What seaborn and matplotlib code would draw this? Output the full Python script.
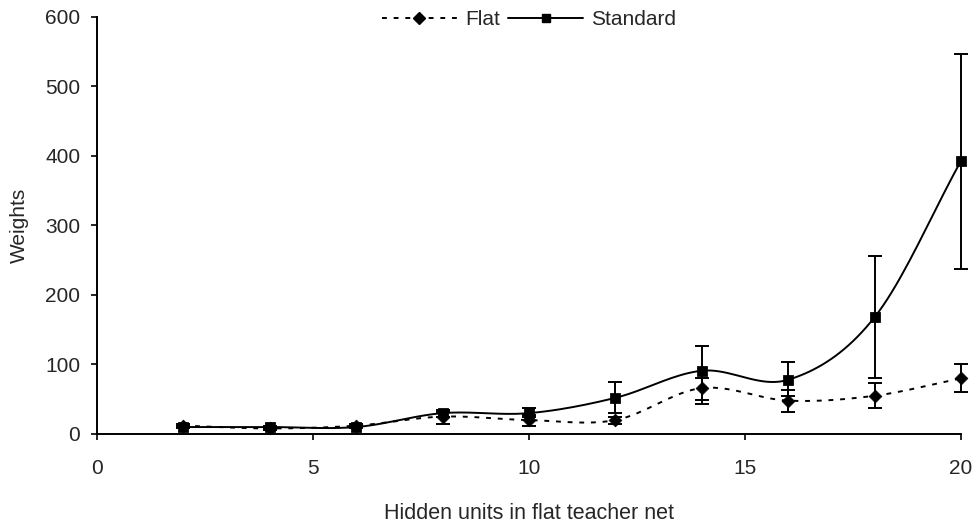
import numpy as np
import pandas as pd
import matplotlib
matplotlib.use("Agg")
import matplotlib.pyplot as plt
import seaborn as sns
from matplotlib.lines import Line2D

# values
hidden_units = [2, 4, 6, 8, 10, 12, 14, 16, 18, 20]
flat_mean = [12, 8, 12, 25, 20, 20, 66, 48, 55, 80]
flat_low = [10, 6, 10, 15, 12, 15, 43, 32, 37, 60]
flat_high = [14, 10, 14, 32, 27, 24, 80, 63, 73, 100]
std_mean = [10, 10, 10, 30, 30, 52, 91, 78, 168, 393]
std_low = [8, 8, 8, 25, 25, 30, 49, 55, 80, 238]
std_high = [12, 12, 12, 35, 37, 75, 126, 103, 256, 547]


def smooth(x, y, n=20):
    # Catmull-Rom spline, close to Excel's "smoothed line"
    x = np.asarray(x, float)
    y = np.asarray(y, float)
    px = np.concatenate([[2 * x[0] - x[1]], x, [2 * x[-1] - x[-2]]])
    py = np.concatenate([[2 * y[0] - y[1]], y, [2 * y[-1] - y[-2]]])
    xs, ys = [], []
    t = np.linspace(0, 1, n, endpoint=False)
    for i in range(1, len(px) - 2):
        for p, out in ((px, xs), (py, ys)):
            p0, p1, p2, p3 = p[i - 1], p[i], p[i + 1], p[i + 2]
            out.extend(0.5 * (2 * p1 + (-p0 + p2) * t
                              + (2 * p0 - 5 * p1 + 4 * p2 - p3) * t ** 2
                              + (-p0 + 3 * p1 - 3 * p2 + p3) * t ** 3))
    xs.append(x[-1])
    ys.append(y[-1])
    return np.array(xs), np.array(ys)


df = pd.DataFrame({
    "units": hidden_units * 2,
    "weights": flat_mean + std_mean,
    "net": ["Flat"] * len(hidden_units) + ["Standard"] * len(hidden_units),
})

sns.set_style("white")
plt.rcParams["font.family"] = ["Liberation Sans", "DejaVu Sans"]
plt.rcParams["font.size"] = 15

fig = plt.figure(figsize=(9.76, 5.23), dpi=100)
ax = fig.add_axes([0.0994, 0.1702, 0.8852, 0.7973])

dash = (0, (2.5, 3.5))
styles = {"Flat": (dash, "D", 6.5), "Standard": ("-", "s", 7)}
lows = {"Flat": flat_low, "Standard": std_low}
highs = {"Flat": flat_high, "Standard": std_high}

for net, (ls, mk, ms) in styles.items():
    sub = df[df["net"] == net]
    sx, sy = smooth(sub["units"], sub["weights"])
    ax.plot(sx, sy, color="black", linestyle=ls, linewidth=1.4, clip_on=False)
    yerr = [sub["weights"].values - np.array(lows[net]),
            np.array(highs[net]) - sub["weights"].values]
    eb = ax.errorbar(sub["units"], sub["weights"], yerr=yerr, fmt="none",
                     ecolor="black", elinewidth=1.4, capsize=5, capthick=1.4)
    for artist in eb.lines[1] + eb.lines[2]:
        artist.set_clip_on(False)
    sns.scatterplot(data=sub, x="units", y="weights", marker=mk, s=ms ** 2,
                    color="black", edgecolor="black", ax=ax, zorder=5,
                    clip_on=False)

handles = [
    Line2D([], [], color="black", linestyle=dash, linewidth=1.4,
           marker="D", markersize=6),
    Line2D([], [], color="black", linestyle="-", linewidth=1.4,
           marker="s", markersize=6),
]
ax.legend(handles, ["Flat", "Standard"], loc="center",
          bbox_to_anchor=(0.5, 0.993), ncol=2, frameon=False,
          handlelength=3.6, columnspacing=0.4, handletextpad=0.4, fontsize=15)

ax.set_xlim(0, 20)
ax.set_ylim(0, 600)
ax.set_xticks([0, 5, 10, 15, 20])
ax.set_yticks(range(0, 601, 100))
ax.set_xlabel("Hidden units in flat teacher net", labelpad=18, fontsize=15.5)
ax.set_ylabel("Weights", labelpad=12)
for s in ["top", "right"]:
    ax.spines[s].set_visible(False)
for s in ["left", "bottom"]:
    ax.spines[s].set_color("black")
    ax.spines[s].set_linewidth(1.4)
ax.tick_params(axis="both", direction="out", length=4, width=1.2,
               color="black", labelsize=15, left=True, bottom=True)
ax.tick_params(axis="x", pad=14)
ax.tick_params(axis="y", pad=8)

fig.savefig("out.png", dpi=100)
